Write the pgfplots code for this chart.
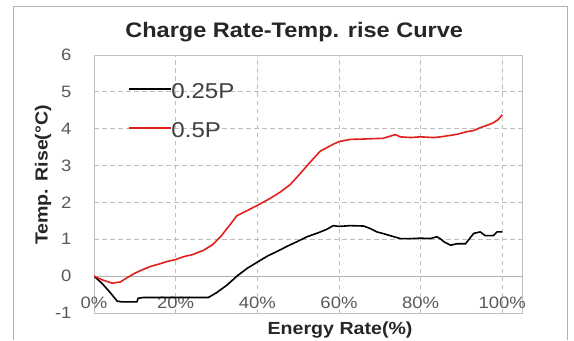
\documentclass[border=0pt]{standalone}
\usepackage{fontspec}
\setmainfont{Liberation Sans}[FakeStretch=1.12]
\usepackage{pgfplots}
\pgfplotsset{compat=1.18}
\definecolor{tickc}{HTML}{595959}
\definecolor{gridc}{HTML}{BEBEBE}
\definecolor{framec}{HTML}{BFBFBF}
\definecolor{redc}{HTML}{E0201B}
\begin{document}
\begin{tikzpicture}[x=1bp,y=1bp]
\useasboundingbox (0,0) rectangle (574,340);
\draw[color=gray!60, line width=1bp] (13,0) -- (13,333) -- (567,333) -- (567,0);
\begin{axis}[
  at={(94bp,27bp)}, anchor=south west,
  scale only axis, width=428.7bp, height=258bp,
  xmin=0, xmax=105, ymin=-1, ymax=6,
  xtick={0,20,40,60,80,100},
  xticklabels={0\%,20\%,40\%,60\%,80\%,100\%},
  ytick={-1,0,1,2,3,4,5,6},
  major tick length=0pt,
  /pgf/number format/assume math mode=true,
  tick label style={font=\fontsize{16.5bp}{19bp}\selectfont, color=tickc},
  xticklabel style={anchor=center, yshift=10bp},
  yticklabel style={anchor=east, xshift=-19bp},
  axis line style={color=framec, line width=0.8bp},
  grid=major,
  major grid style={color=gridc, line width=0.9bp, dash pattern=on 4.5bp off 3.5bp},
  extra y ticks={0}, extra y tick labels={},
  extra y tick style={grid=major, major grid style={solid, color=gray!60, line width=0.9bp}},
  title={Charge Rate-Temp. rise Curve},
  every axis title/.style={at={(rel axis cs:0.467,1)}, yshift=23bp, anchor=center,
     font=\bfseries\fontsize{21bp}{25bp}\selectfont, color=black!85},
  xlabel={Energy Rate(\%)},
  every axis x label/.style={at={(rel axis cs:0.574,0)}, yshift=-17bp, anchor=center,
     font=\bfseries\fontsize{17.5bp}{21bp}\selectfont, color=black!85},
  ylabel={Temp. Rise(°C)},
  every axis y label/.style={at={(rel axis cs:0,0.535)}, xshift=-51bp, anchor=center, rotate=90,
     font=\bfseries\fontsize{17.5bp}{21bp}\selectfont, color=black!85},
  legend style={draw=none, fill=none, at={(rel axis cs:0.079,0.781)}, anchor=west,
     inner sep=0pt, outer sep=0pt, row sep=22.5bp,
     font=\fontsize{21.5bp}{25bp}\selectfont, text=black!75,
     nodes={inner sep=0pt, outer sep=0pt}},
  legend cell align=left,
  legend image code/.code={\draw[#1] (0bp,3bp) -- (42bp,3bp);},
]
\addplot[black, line width=1.6bp] coordinates {
(0,0) (2,-0.2) (4,-0.45) (5.7,-0.68) (7,-0.7) (10.5,-0.7) (10.8,-0.6) (12,-0.58)
(20,-0.58) (28,-0.58) (30,-0.45) (32.6,-0.24) (35,0) (37.5,0.21) (40,0.38)
(42.4,0.54) (45,0.68) (47.3,0.81) (50,0.95) (52.2,1.07) (55,1.18) (57,1.27)
(58.6,1.37) (60,1.35) (62.7,1.37) (66,1.36) (67.5,1.3) (69.3,1.2) (71,1.15)
(72.5,1.1) (75,1.02) (78,1.02) (80,1.03) (82.4,1.02) (84,1.07) (85,1.0)
(85.6,0.94) (87.3,0.84) (89,0.88) (91,0.88) (93,1.16) (94.6,1.2) (95.8,1.1)
(97.8,1.1) (98.7,1.2) (100,1.2)
};
\addlegendentry{0.25P}
\addplot[redc, line width=1.6bp] coordinates {
(0,0) (2,-0.1) (4.4,-0.19) (6.4,-0.16) (8,-0.05) (10,0.08) (12,0.18) (14,0.27)
(16,0.33) (18,0.4) (20,0.45) (22,0.53) (24,0.58) (26.8,0.7) (29,0.85) (31,1.07)
(33,1.35) (35,1.64) (37,1.75) (40,1.92) (43,2.1) (45.6,2.28) (48,2.48) (50,2.72)
(53,3.1) (55.4,3.39) (58.6,3.58) (60,3.65) (62.7,3.71) (66,3.72) (70.8,3.74)
(73.8,3.84) (75,3.78) (77.5,3.76) (80,3.78) (83,3.76) (85,3.78) (87.3,3.82)
(89,3.85) (91.3,3.92) (93,3.95) (94.6,4.03) (96,4.08) (97.8,4.16) (99,4.25) (100,4.38)
};
\addlegendentry{0.5P}
\end{axis}
\end{tikzpicture}
\end{document}
